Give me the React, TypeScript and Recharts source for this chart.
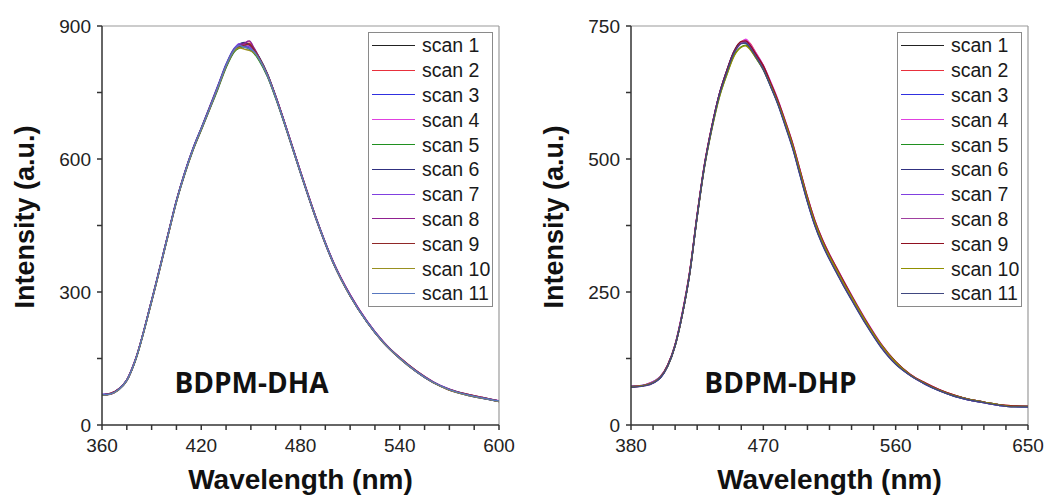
import React from 'react';
import { LineChart, Line, XAxis, YAxis, ReferenceLine, Legend } from 'recharts';

const FONT = '"Liberation Sans", Arial, sans-serif';

const scanNames = ['scan 1', 'scan 2', 'scan 3', 'scan 4', 'scan 5', 'scan 6', 'scan 7', 'scan 8', 'scan 9', 'scan 10', 'scan 11'];

const dhaColors = ['#222222', '#e8303c', '#3030e0', '#e040e0', '#209020', '#303080', '#8040e0', '#902090', '#902828', '#989020', '#5878c0'];
const dhpColors = ['#222222', '#e8303c', '#3030e0', '#e040e0', '#209020', '#303080', '#8040e0', '#a040a0', '#901020', '#909000', '#404880'];

// BDPM-DHA panel
const dhaWavelength = [360, 365, 370, 375, 380, 390, 400, 405, 410, 415, 420, 425, 430, 435, 440, 443, 446, 449, 452, 455, 460, 465, 470, 480, 490, 500, 510, 520, 530, 540, 550, 560, 570, 580, 590, 600];
const dhaScans = [
  [68, 70, 81, 101, 145, 281, 431, 506, 567, 623, 669, 715, 763, 809, 847, 857, 862, 857, 846, 829, 791, 741, 686, 571, 461, 366, 293, 234, 188, 151, 121, 97, 80, 69, 61, 54],
  [67, 71, 80, 102, 146, 279, 429, 504, 569, 621, 666, 712, 760, 812, 844, 852, 858, 861, 848, 826, 789, 739, 684, 569, 459, 364, 291, 235, 187, 152, 122, 98, 79, 70, 62, 53],
  [69, 70, 79, 100, 144, 282, 432, 507, 570, 624, 670, 717, 765, 814, 850, 858, 855, 850, 840, 824, 787, 738, 683, 568, 458, 363, 292, 233, 186, 150, 120, 96, 80, 68, 60, 54],
  [68, 69, 81, 101, 145, 280, 430, 505, 566, 621, 667, 713, 759, 808, 843, 854, 859, 856, 844, 827, 790, 742, 687, 572, 462, 367, 294, 236, 188, 151, 121, 97, 81, 69, 61, 55],
  [68, 70, 80, 101, 143, 278, 428, 503, 565, 619, 665, 711, 757, 806, 842, 850, 853, 848, 838, 822, 786, 737, 683, 569, 460, 365, 292, 234, 187, 151, 121, 97, 80, 69, 61, 54],
  [67, 70, 80, 100, 144, 279, 430, 505, 568, 622, 668, 714, 762, 811, 848, 859, 863, 858, 847, 830, 792, 741, 685, 570, 459, 364, 291, 233, 186, 150, 120, 96, 79, 68, 60, 53],
  [69, 71, 81, 102, 146, 281, 431, 506, 569, 623, 669, 716, 764, 812, 849, 860, 856, 853, 843, 826, 789, 740, 686, 571, 461, 366, 293, 235, 188, 152, 122, 98, 81, 70, 62, 54],
  [68, 70, 80, 101, 145, 280, 430, 505, 568, 622, 668, 714, 761, 810, 846, 855, 861, 866, 850, 829, 791, 742, 687, 572, 461, 366, 294, 235, 188, 151, 121, 97, 80, 69, 61, 54],
  [68, 71, 81, 101, 145, 281, 431, 506, 568, 622, 668, 715, 762, 810, 847, 853, 857, 859, 846, 828, 790, 741, 686, 571, 460, 365, 292, 234, 187, 152, 122, 97, 80, 70, 62, 54],
  [67, 69, 79, 100, 144, 279, 429, 504, 567, 621, 667, 713, 760, 809, 844, 851, 848, 845, 839, 825, 788, 739, 684, 569, 459, 364, 291, 233, 186, 150, 120, 96, 79, 68, 60, 53],
  [68, 70, 80, 101, 145, 280, 430, 505, 568, 622, 668, 714, 762, 811, 847, 856, 852, 849, 842, 826, 789, 740, 685, 570, 460, 365, 292, 234, 187, 151, 121, 97, 80, 69, 61, 54],
];
const dhaXTicks = [360, 375, 390, 405, 420, 435, 450, 465, 480, 495, 510, 525, 540, 555, 570, 585, 600];
const dhaXMajor = [360, 420, 480, 540, 600];
const dhaYTicks = [0, 150, 300, 450, 600, 750, 900];
const dhaYMajor = [0, 300, 600, 900];

// BDPM-DHP panel
const dhpWavelength = [380, 390, 400, 405, 410, 415, 420, 425, 430, 435, 440, 445, 450, 455, 458, 461, 465, 470, 475, 480, 485, 490, 495, 500, 505, 510, 515, 520, 525, 530, 540, 550, 560, 570, 580, 590, 600, 610, 620, 630, 640, 650];
const dhpScans = [
  [72, 75, 90, 112, 150, 210, 288, 394, 489, 561, 621, 664, 701, 719, 721, 713, 696, 673, 641, 607, 567, 525, 475, 425, 381, 346, 317, 291, 265, 241, 193, 151, 117, 94, 78, 65, 55, 48, 43, 38, 35, 35],
  [71, 76, 91, 113, 151, 212, 290, 396, 491, 562, 620, 662, 700, 720, 724, 717, 699, 675, 643, 609, 569, 528, 478, 428, 384, 349, 320, 294, 268, 243, 195, 152, 119, 95, 79, 66, 56, 48, 43, 38, 36, 35],
  [73, 75, 89, 111, 149, 209, 286, 392, 487, 560, 621, 665, 702, 719, 718, 709, 692, 669, 637, 603, 563, 521, 470, 420, 376, 341, 312, 286, 260, 236, 189, 147, 115, 93, 77, 64, 54, 47, 42, 37, 35, 34],
  [72, 74, 90, 112, 151, 213, 290, 396, 490, 561, 620, 661, 698, 718, 725, 716, 699, 676, 645, 611, 571, 529, 479, 429, 385, 350, 321, 295, 269, 244, 196, 153, 119, 95, 79, 66, 55, 48, 43, 38, 35, 35],
  [72, 75, 90, 111, 149, 209, 286, 392, 486, 557, 616, 658, 694, 711, 714, 707, 690, 668, 637, 604, 565, 524, 475, 425, 381, 346, 317, 291, 265, 241, 193, 151, 118, 94, 78, 65, 55, 48, 43, 38, 35, 35],
  [71, 75, 89, 112, 150, 210, 287, 393, 488, 560, 620, 663, 700, 718, 719, 710, 693, 670, 638, 604, 564, 521, 471, 421, 377, 342, 313, 287, 261, 237, 190, 148, 115, 93, 77, 64, 54, 47, 42, 37, 34, 34],
  [72, 76, 91, 113, 151, 211, 288, 394, 489, 561, 621, 664, 701, 720, 721, 712, 695, 671, 639, 605, 564, 522, 472, 422, 378, 343, 314, 288, 262, 238, 190, 148, 116, 93, 77, 65, 55, 47, 42, 37, 35, 35],
  [73, 75, 90, 112, 150, 210, 287, 393, 488, 560, 620, 664, 701, 719, 720, 713, 696, 673, 641, 607, 567, 525, 474, 424, 380, 345, 316, 290, 264, 240, 192, 150, 117, 94, 78, 65, 55, 48, 43, 38, 35, 35],
  [72, 75, 90, 112, 150, 210, 288, 394, 489, 561, 621, 665, 702, 721, 722, 714, 697, 675, 643, 609, 570, 528, 478, 428, 384, 349, 320, 294, 268, 243, 195, 152, 119, 95, 79, 66, 56, 48, 43, 38, 36, 35],
  [72, 75, 90, 111, 149, 209, 286, 391, 485, 556, 615, 657, 693, 710, 713, 706, 690, 668, 638, 605, 567, 525, 475, 425, 381, 346, 317, 291, 265, 241, 193, 151, 118, 94, 78, 65, 55, 48, 43, 38, 35, 35],
  [71, 74, 89, 111, 149, 209, 286, 392, 487, 559, 619, 662, 699, 717, 718, 709, 692, 668, 636, 602, 561, 519, 469, 419, 375, 340, 311, 285, 259, 235, 188, 146, 114, 93, 77, 64, 54, 47, 42, 37, 34, 34],
];
const dhpXTicks = [380, 395, 410, 425, 440, 455, 470, 485, 500, 515, 530, 545, 560, 575, 590, 605, 620, 635, 650];
const dhpXMajor = [380, 470, 560, 650];
const dhpYTicks = [0, 125, 250, 375, 500, 625, 750];
const dhpYMajor = [0, 250, 500, 750];

const toRows = (wl: number[], scans: number[][]) =>
  wl.map((w, i) => {
    const row: any = { w };
    scans.forEach((s, k) => {
      row[`s${k + 1}`] = s[i];
    });
    return row;
  });

// tick labels only for major values; the axis draws the tick marks
const XTick = (props: any) => {
  const { x, y, payload, majors } = props;
  if (!majors.includes(payload.value)) return <g />;
  return (
    <text x={x} y={y + 15} textAnchor="middle" dominantBaseline="central" fontSize={19} fill="#222" fontFamily={FONT}>
      {payload.value}
    </text>
  );
};

const YTick = (props: any) => {
  const { x, y, payload, majors } = props;
  if (!majors.includes(payload.value)) return <g />;
  return (
    <text x={x - 6} y={y} textAnchor="end" dominantBaseline="central" fontSize={19} fill="#222" fontFamily={FONT}>
      {payload.value}
    </text>
  );
};

const LegendBox = ({ colors }: { colors: string[] }) => (
  <div style={{ width: 125, height: 275, border: '1px solid #8a8a8a', background: '#fff', boxSizing: 'border-box', fontFamily: FONT }}>
    {scanNames.map((n, i) => (
      <div key={n} style={{ display: 'flex', alignItems: 'center', height: 24.8 }}>
        <div style={{ width: 43, marginLeft: 3, borderTop: `1px solid ${colors[i]}` }} />
        <span style={{ marginLeft: 7, fontSize: 19.5, color: '#1a1a1a', lineHeight: '24px' }}>{n}</span>
      </div>
    ))}
  </div>
);

type PanelProps = {
  left: number;
  rows: any[];
  colors: string[];
  xDomain: [number, number];
  xTicks: number[];
  xMajor: number[];
  yDomain: [number, number];
  yTicks: number[];
  yMajor: number[];
};

const Panel = ({ left, rows, colors, xDomain, xTicks, xMajor, yDomain, yTicks, yMajor }: PanelProps) => (
  <div style={{ position: 'absolute', left, top: 0, width: 520, height: 500 }}>
    <LineChart width={520} height={500} data={rows} margin={{ top: 26, right: 21, bottom: 45, left: 62 }}>
      <XAxis
        dataKey="w"
        type="number"
        domain={xDomain}
        ticks={xTicks}
        interval={0}
        allowDataOverflow
        height={30}
        tickSize={5}
        tickMargin={0}
        tickLine={{ stroke: '#333', strokeWidth: 1.5 }}
        axisLine={{ stroke: '#333', strokeWidth: 1.5 }}
        tick={(p: any) => <XTick {...p} majors={xMajor} />}
      />
      <YAxis
        type="number"
        domain={yDomain}
        ticks={yTicks}
        interval={0}
        allowDataOverflow
        width={40}
        tickSize={5}
        tickMargin={0}
        tickLine={{ stroke: '#333', strokeWidth: 1.5 }}
        axisLine={{ stroke: '#333', strokeWidth: 1.5 }}
        tick={(p: any) => <YTick {...p} majors={yMajor} />}
      />
      <ReferenceLine y={yDomain[1]} stroke="#9a9a9a" strokeWidth={1.2} />
      <ReferenceLine x={xDomain[1]} stroke="#9a9a9a" strokeWidth={1.2} />
      {colors.map((c, i) => (
        <Line key={scanNames[i]} name={scanNames[i]} dataKey={`s${i + 1}`} type="monotone" stroke={c} strokeWidth={1.4} dot={false} isAnimationActive={false} />
      ))}
      <Legend
        layout="vertical"
        align="center"
        verticalAlign="middle"
        wrapperStyle={{ left: 368, top: 32, width: 125, height: 275 }}
        content={() => <LegendBox colors={colors} />}
      />
    </LineChart>
  </div>
);

const Caption = ({ x, y, text, size, rotate, family }: { x: number; y: number; text: string; size: number; rotate?: boolean; family?: string }) => (
  <div
    style={{
      position: 'absolute',
      left: x,
      top: y,
      transform: `translate(-50%, -50%)${rotate ? ' rotate(-90deg)' : ''}`,
      fontSize: size,
      fontWeight: 'bold',
      whiteSpace: 'nowrap',
      lineHeight: 1,
      color: '#111',
      fontFamily: family || FONT,
    }}
  >
    {text}
  </div>
);

export default function App() {
  return (
    <div style={{ position: 'absolute', left: 0, top: 0, width: 1049, height: 500, background: '#fff', overflow: 'hidden', fontFamily: FONT }}>
      <Panel
        left={0}
        rows={toRows(dhaWavelength, dhaScans)}
        colors={dhaColors}
        xDomain={[360, 600]}
        xTicks={dhaXTicks}
        xMajor={dhaXMajor}
        yDomain={[0, 900]}
        yTicks={dhaYTicks}
        yMajor={dhaYMajor}
      />
      <Panel
        left={529}
        rows={toRows(dhpWavelength, dhpScans)}
        colors={dhpColors}
        xDomain={[380, 650]}
        xTicks={dhpXTicks}
        xMajor={dhpXMajor}
        yDomain={[0, 750]}
        yTicks={dhpYTicks}
        yMajor={dhpYMajor}
      />
      <Caption x={25} y={217} text="Intensity (a.u.)" size={27} rotate />
      <Caption x={554} y={217} text="Intensity (a.u.)" size={27} rotate />
      <Caption x={300.5} y={480} text="Wavelength (nm)" size={28} />
      <Caption x={829.5} y={480} text="Wavelength (nm)" size={28} />
      <Caption x={251.5} y={382} text="BDPM-DHA" size={28} family='"Open Sans", sans-serif' />
      <Caption x={780.5} y={382} text="BDPM-DHP" size={28} family='"Open Sans", sans-serif' />
    </div>
  );
}
